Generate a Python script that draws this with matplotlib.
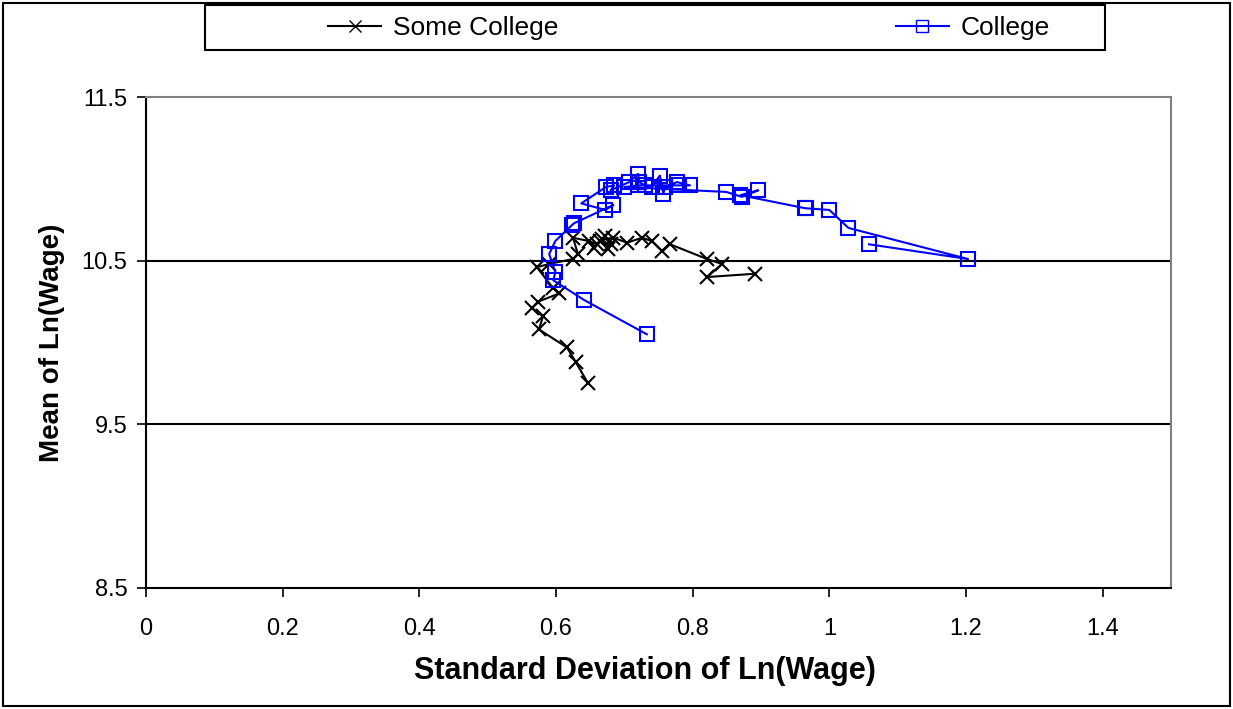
import matplotlib.pyplot as plt
from matplotlib.lines import Line2D
from matplotlib.patches import Rectangle

plt.rcParams['font.family'] = ['Liberation Sans', 'DejaVu Sans']

# Some College: std dev and mean of ln(wage), in trajectory order
some_sd = [0.647, 0.629, 0.616, 0.575, 0.581, 0.565, 0.574, 0.605, 0.596, 0.572,
           0.590, 0.625, 0.632, 0.625, 0.648, 0.660, 0.655, 0.672, 0.665, 0.680,
           0.676, 0.668, 0.684, 0.704, 0.726, 0.740, 0.755, 0.767, 0.821, 0.843,
           0.821, 0.891]
some_mean = [9.75, 9.88, 9.97, 10.08, 10.16, 10.21, 10.25, 10.30, 10.33, 10.46,
             10.48, 10.51, 10.54, 10.64, 10.62, 10.60, 10.58, 10.65, 10.62, 10.60,
             10.57, 10.63, 10.64, 10.61, 10.64, 10.62, 10.56, 10.60, 10.51, 10.48,
             10.40, 10.42]

# College
col_sd = [0.733, 0.641, 0.596, 0.599, 0.590, 0.599, 0.624, 0.627, 0.684, 0.672,
          0.637, 0.673, 0.685, 0.680, 0.707, 0.720, 0.722, 0.730, 0.740, 0.752,
          0.757, 0.760, 0.777, 0.796, 0.780, 0.720, 0.700, 0.849, 0.872, 0.896,
          0.870, 0.965, 0.966, 1.000, 1.028, 1.203, 1.058]
col_mean = [10.05, 10.26, 10.38, 10.43, 10.54, 10.62, 10.72, 10.73, 10.84, 10.81,
            10.85, 10.95, 10.96, 10.93, 10.98, 11.03, 10.98, 10.96, 10.95, 11.02,
            10.91, 10.95, 10.98, 10.96, 10.96, 10.96, 10.95, 10.92, 10.89, 10.93,
            10.90, 10.82, 10.82, 10.81, 10.70, 10.51, 10.60]

fig = plt.figure(figsize=(12.33, 7.09), dpi=100)
ax = fig.add_axes([146 / 1233, 1 - 588 / 709, (1171 - 146) / 1233, (588 - 97) / 709])

# outer frame of the chart
fig.patches.append(Rectangle((3 / 1233, 3 / 709), 1227 / 1233, 703 / 709,
                             transform=fig.transFigure, fill=False,
                             edgecolor='black', linewidth=1.5))
# legend frame
fig.patches.append(Rectangle((205 / 1233, 1 - 50 / 709), 900 / 1233, 45 / 709,
                             transform=fig.transFigure, fill=False,
                             edgecolor='black', linewidth=1.5))

for yv in [9.5, 10.5]:
    ax.axhline(yv, color='black', linewidth=1.5, zorder=1)

ax.plot(some_sd, some_mean, color='black', marker='x', markersize=10.5,
        markeredgewidth=1.5, linewidth=1.5, zorder=3)
ax.plot(col_sd, col_mean, color='#0000ff', marker='s', markersize=10.5,
        markerfacecolor='none', markeredgewidth=1.5, linewidth=1.5, zorder=4)

ax.set_xlim(0, 1.5)
ax.set_ylim(8.5, 11.5)
ax.set_xticks([0, 0.2, 0.4, 0.6, 0.8, 1.0, 1.2, 1.4])
ax.set_xticklabels(['0', '0.2', '0.4', '0.6', '0.8', '1', '1.2', '1.4'])
ax.set_yticks([8.5, 9.5, 10.5, 11.5])
ax.set_yticklabels(['8.5', '9.5', '10.5', '11.5'])
ax.tick_params(labelsize=17, direction='out', length=6.5, width=1.2)
ax.tick_params(axis='x', pad=15)
ax.tick_params(axis='y', pad=7)

ax.spines['left'].set_color('black')
ax.spines['bottom'].set_color('black')
ax.spines['top'].set_color('#808080')
ax.spines['right'].set_color('#808080')
for s in ax.spines.values():
    s.set_linewidth(1.5)

ax.set_xlabel('Standard Deviation of Ln(Wage)', fontsize=22, fontweight='bold')
ax.xaxis.set_label_coords((645 - 146) / 1025, -0.138)
ax.set_ylabel('Mean of Ln(Wage)', fontsize=20, fontweight='bold', labelpad=12)

handles = [Line2D([], [], color='black', marker='x', markersize=8, linewidth=1.5),
           Line2D([], [], color='#0000ff', marker='s', markersize=8,
                  markerfacecolor='none', linewidth=1.5)]
fig.legend(handles, ['Some College', 'College'], loc='center',
           bbox_to_anchor=(689 / 1233, 1 - 28 / 709), ncol=2, fontsize=19,
           frameon=False, columnspacing=12.8, handlelength=2.0,
           handletextpad=0.45)

fig.savefig('out.png', dpi=100)
